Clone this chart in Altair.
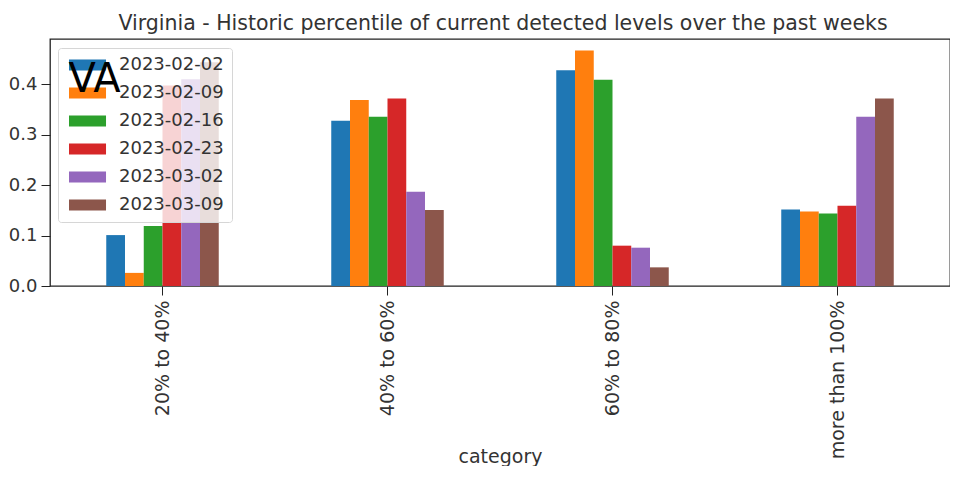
import altair as alt
import pandas as pd

categories = ["20% to 40%", "40% to 60%", "60% to 80%", "more than 100%"]
dates = ["2023-02-02", "2023-02-09", "2023-02-16", "2023-02-23", "2023-03-02", "2023-03-09"]
colors = ["#1f77b4", "#ff7f0e", "#2ca02c", "#d62728", "#9467bd", "#8c564b"]

# share of samples in each category, one list per week (order = categories)
v_2023_02_02 = [0.101, 0.328, 0.428, 0.152]
v_2023_02_09 = [0.026, 0.369, 0.467, 0.148]
v_2023_02_16 = [0.119, 0.336, 0.409, 0.144]
v_2023_02_23 = [0.398, 0.372, 0.080, 0.159]
v_2023_03_02 = [0.410, 0.187, 0.076, 0.336]
v_2023_03_09 = [0.444, 0.151, 0.037, 0.372]
series = [v_2023_02_02, v_2023_02_09, v_2023_02_16, v_2023_02_23, v_2023_03_02, v_2023_03_09]

y_ticks = [0.0, 0.1, 0.2, 0.3, 0.4]

rows = []
for d, vals in zip(dates, series):
    for c, v in zip(categories, vals):
        rows.append({"category": c, "date": d, "value": v})
df = pd.DataFrame(rows)

FONT = "DejaVu Sans"
TXT = "#333333"

chart = alt.Chart(df).mark_bar().encode(
    x=alt.X(
        "category:N",
        sort=categories,
        scale=alt.Scale(paddingInner=0.5, paddingOuter=0.25),
        axis=alt.Axis(
            title="category",
            labelAngle=270,
            labelFontSize=19,
            labelColor=TXT,
            labelPadding=5,
            tickSize=9,
            tickColor="#222222",
            domain=False,
            titleFontSize=19,
            titleColor=TXT,
            titleFontWeight="normal",
            titleY=176,
            titleBaseline="alphabetic",
        ),
    ),
    xOffset=alt.XOffset("date:N", sort=dates, scale=alt.Scale(paddingInner=0, paddingOuter=0)),
    y=alt.Y(
        "value:Q",
        scale=alt.Scale(domain=[0, 0.49], nice=False, zero=True),
        axis=alt.Axis(
            values=y_ticks,
            format=".1f",
            labelFontSize=18,
            labelColor=TXT,
            labelPadding=4,
            tickSize=9,
            tickColor="#222222",
            domain=False,
            grid=False,
            title="VA",
            titleAngle=0,
            titleX=18,
            titleY=52,
            titleAlign="left",
            titleBaseline="alphabetic",
            titleFontSize=40,
            titleColor="black",
            titleFontWeight="normal",
            zindex=1,
        ),
    ),
    color=alt.Color(
        "date:N",
        sort=dates,
        scale=alt.Scale(domain=dates, range=colors),
        legend=alt.Legend(
            title=None,
            orient="none",
            legendX=8,
            legendY=9,
            symbolType="M-1,-0.92H5.17V0.92H-1Z",
            symbolSize=144,
            symbolStrokeWidth=0,
            symbolOpacity=1,
            labelFontSize=18,
            labelColor=TXT,
            labelOffset=35,
            rowPadding=10,
            padding=8,
            fillColor="rgba(255,255,255,0.8)",
            strokeColor="#d6d6d6",
            cornerRadius=3,
        ),
    ),
).properties(
    width=900,
    height=247,
    autosize=alt.AutoSizeParams(type="none"),
    padding={"left": 42, "top": 31, "right": 0, "bottom": 180},
    title=alt.TitleParams(
        "Virginia - Historic percentile of current detected levels over the past weeks",
        fontSize=20.5,
        font=FONT,
        fontWeight="normal",
        color=TXT,
        anchor="middle",
        baseline="alphabetic",
        offset=8,
        dy=19,
        dx=3,
    ),
).configure(
    font=FONT,
).configure_view(
    stroke="#222222",
    strokeWidth=1.3,
).configure_axis(
    labelFont=FONT,
    titleFont=FONT,
).configure_legend(
    labelFont=FONT,
)

chart.save("out.html", embed_options={"renderer": "svg", "actions": False})
